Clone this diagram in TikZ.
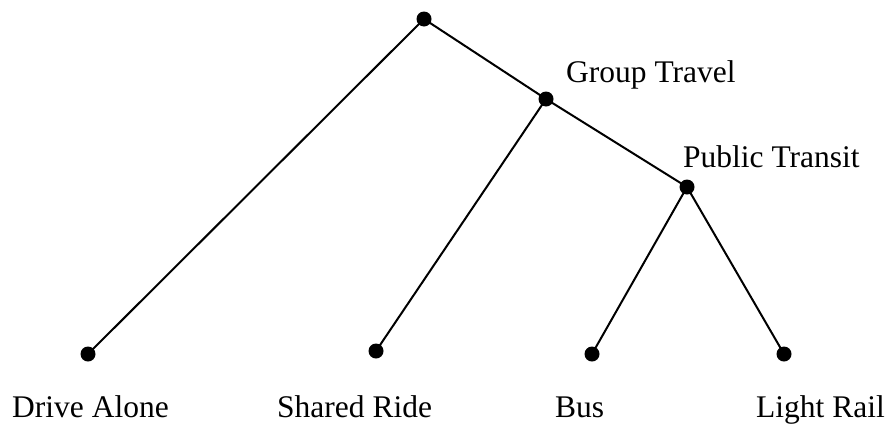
\documentclass[tikz,border=0pt]{standalone}
\usepackage{fontspec}
\setmainfont{Liberation Serif}
\begin{document}
\begin{tikzpicture}[x=1pt,y=-1pt,
  dot/.style={circle,fill=black,inner sep=0pt,minimum size=15pt},
  lbl/.style={anchor=base west,inner sep=0pt,font=\fontsize{31.5}{36}\selectfont},
  edge/.style={line width=2pt}]
\useasboundingbox (0,0) rectangle (888,426);
\node[dot] (root) at (424,19) {};
\node[dot] (gt) at (546,99) {};
\node[dot] (pt) at (687,187) {};
\node[dot] (da) at (88,354) {};
\node[dot] (sr) at (376,351) {};
\node[dot] (bus) at (592,354) {};
\node[dot] (lr) at (784,354) {};
\draw[edge] (root.center) -- (da.center);
\draw[edge] (root.center) -- (gt.center);
\draw[edge] (gt.center) -- (sr.center);
\draw[edge] (gt.center) -- (pt.center);
\draw[edge] (pt.center) -- (bus.center);
\draw[edge] (pt.center) -- (lr.center);
\node[lbl] (lgt) at (566,82) {Group Travel};
\node[lbl] (lpt) at (683,167) {Public Transit};
\node[lbl] (lda) at (12,417) {Drive Alone};
\node[lbl] (lsr) at (277,417) {Shared Ride};
\node[lbl] (lbus) at (555,417) {Bus};
\node[lbl] (llr) at (756,417) {Light Rail};
\end{tikzpicture}
\end{document}
